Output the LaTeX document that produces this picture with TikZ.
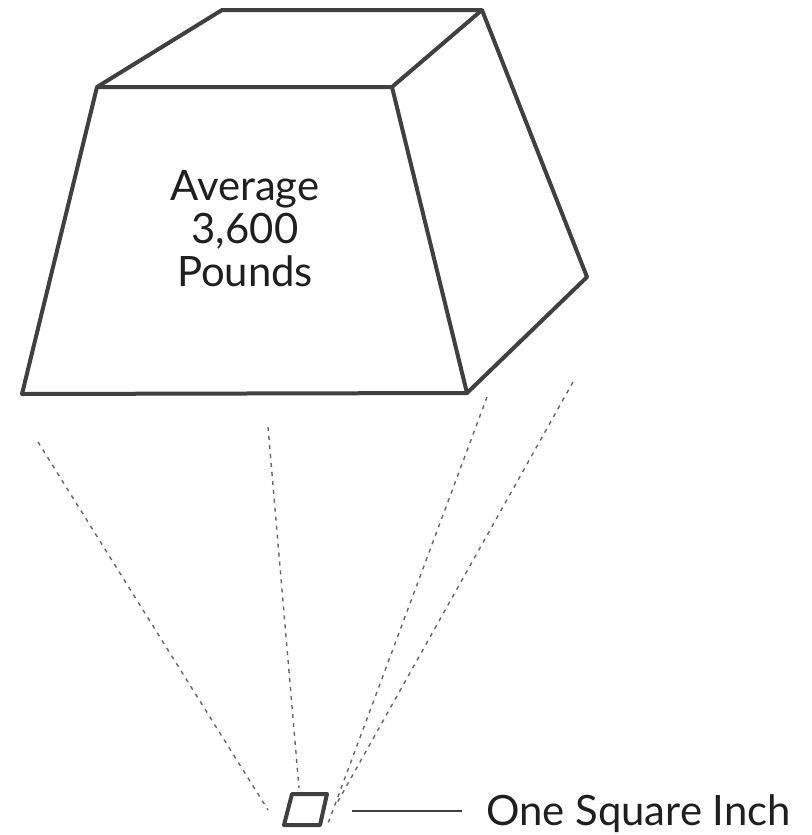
\documentclass[tikz,border=0pt]{standalone}
\usepackage{fontspec}
\setmainfont{Lato}
\usepackage{tikz}
\tikzset{every node/.style={font=\fontsize{42}{43}\selectfont}}
\colorlet{edgecol}{black!75}
\colorlet{raycol}{black!60}
\colorlet{labelcol}{black!88}

\begin{document}
\begin{tikzpicture}[x=1bp, y=-1bp, line join=round]

  \useasboundingbox (0,0) rectangle (812,835);

  % Corners of the block.
  \coordinate (btl) at (222,10);
  \coordinate (btr) at (482,10);
  \coordinate (ftl) at (97,87);
  \coordinate (ftr) at (392,87);
  \coordinate (fbl) at (22,394);
  \coordinate (fbr) at (467,393);
  \coordinate (rbk) at (587,277);

  % Block outline.
  \draw[line width=4bp, edgecol]
    (fbl) -- (ftl) -- (btl) -- (btr) -- (rbk) -- (fbr) -- cycle;
  \draw[line width=4bp, edgecol] (ftl) -- (ftr) -- (fbr);
  \draw[line width=4bp, edgecol] (ftr) -- (btr);

  % Weight label on the front face.
  \node[align=center, text=labelcol] (weight) at (245,229)
    {Average\\3,600\\Pounds};

  % The square inch.
  \coordinate (sqa) at (292,794);
  \coordinate (sqb) at (327,794);
  \coordinate (sqc) at (320,825);
  \coordinate (sqd) at (284,825);
  \draw[line width=4bp, edgecol] (sqa) -- (sqb) -- (sqc) -- (sqd) -- cycle;

  % Sight lines from the block down to the square.
  \coordinate (ray1) at (38,442);
  \coordinate (ray2) at (268,427);
  \coordinate (ray3) at (487,397);
  \coordinate (ray4) at (573,382);
  \coordinate (end1) at (268,810);
  \coordinate (end2) at (299,788);
  \coordinate (end3) at (327,826);
  \coordinate (end4) at (337,803);
  \foreach \i in {1,...,4} {
    \draw[raycol, line width=1.4bp, dash pattern=on 4bp off 5bp]
      (ray\i) -- (end\i);
  }

  % Label for the square, with its leader line.
  \coordinate (sqr) at (352,811);
  \node[anchor=base west, inner xsep=24bp, inner ysep=0pt, text=labelcol]
    (inchlabel) at (462,825) {One Square Inch};
  \draw[line width=1.4bp, edgecol] (sqr) -- (inchlabel.west |- sqr);

\end{tikzpicture}
\end{document}
